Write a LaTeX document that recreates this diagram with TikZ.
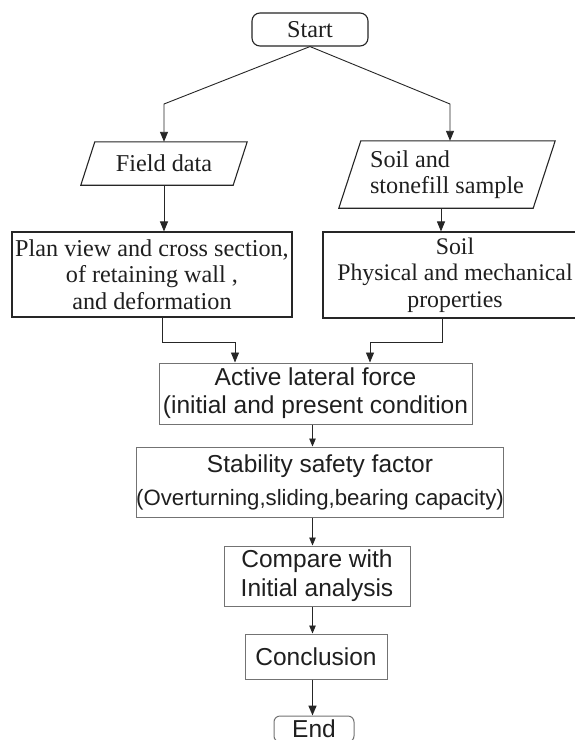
\documentclass[tikz,border=0pt]{standalone}
\usepackage{fontspec}
\setmainfont{Liberation Serif}
\setsansfont{Liberation Sans}
\usetikzlibrary{arrows.meta,calc}
\begin{document}
\begin{tikzpicture}[x=1pt,y=-1pt,
  serifbox/.style={draw=black!85, line width=1.1pt, inner sep=0pt, align=center,
    font=\fontsize{24.2}{26.5}\selectfont, text=black!88},
  seriftext/.style={inner sep=0pt, align=center,
    font=\fontsize{24.2}{26.5}\selectfont, text=black!88},
  sansbox/.style={draw=black!55, line width=1pt, inner sep=0pt, align=center,
    font=\sffamily\fontsize{24.5}{28}\selectfont, text=black!88},
  pline/.style={draw=black!85, line width=1.1pt, line join=miter},
  conn/.style={draw=black!85, line width=0.9pt, -{Triangle[length=10pt,width=8pt]}},
  connsm/.style={draw=black!85, line width=0.9pt, -{Triangle[length=8pt,width=6.5pt]}},
  connbig/.style={draw=black!85, line width=1.5pt, -{Triangle[length=10pt,width=8pt]}}
]
\useasboundingbox (0,0) rectangle (575,740);
\fill[white] (0,0) rectangle (575,740);
\clip (0,0) rectangle (575,740);

% top part
\node[serifbox, rounded corners=8pt, minimum width=116pt, minimum height=33pt] (start) at (310,29.5) {Start};

\node[seriftext, minimum width=166pt, minimum height=43pt] (field) at (164,163.5) {Field data};
\draw[pline] ([xshift=14pt]field.north west) -- (field.north east) -- ([xshift=-14pt]field.south east) -- (field.south west) -- cycle;

\node[seriftext, minimum width=216pt, minimum height=67pt, align=left] (sample) at (447,174.5) {Soil and\\stonefill sample};
\draw[pline] ([xshift=22pt]sample.north west) -- (sample.north east) -- ([xshift=-22pt]sample.south east) -- (sample.south west) -- cycle;

\node[serifbox, minimum width=280pt, minimum height=85pt] (plan) at (152,274.5) {Plan view and cross section,\\of retaining wall ,\hspace*{17pt}\\and deformation};

\node[serifbox, minimum width=268pt, minimum height=86pt, font=\fontsize{23.8}{26.5}\selectfont] (soil) at (457,275) {\hspace*{-4pt}Soil\\\hspace*{-4pt}Physical and mechanical\\\hspace*{-4pt}properties};

% lower part
\node[sansbox, minimum width=313pt, minimum height=61pt] (active) at (315.5,393.5) {Active lateral force\\(initial and present condition};

\node[sansbox, minimum width=360pt, minimum height=70pt] (stab) at (320,482) {Stability safety factor\\[5pt]{\fontsize{22.2}{26}\selectfont(Overturning,sliding,bearing capacity)}};

\node[sansbox, minimum width=186pt, minimum height=60pt] (cmp) at (317,576) {Compare with\\[1pt]Initial analysis};

\node[sansbox, minimum width=142pt, minimum height=45pt] (conc) at (316,656.5) {Conclusion};

\node[sansbox, rounded corners=6pt, minimum width=80pt, minimum height=26pt] (end) at (314,729) {End};

% connectors
\coordinate (bl) at (164,104);
\coordinate (br) at (450,104);
\draw[conn] (start.south) -- (bl) -- (bl |- field.north);
\draw[conn] (start.south) -- (br) -- (br |- sample.north);

\draw[conn] (field.south) -- (field.south |- plan.north);
\coordinate (sx) at (441,0);
\draw[conn] (sample.south -| sx) -- (soil.north -| sx);

\coordinate (pl) at (162,342);
\coordinate (al) at (235,342);
\draw[conn] (plan.south -| pl) -- (pl) -- (al) -- (al |- active.north);
\coordinate (pr) at (442,342);
\coordinate (ar) at (370,342);
\draw[conn] (soil.south -| pr) -- (pr) -- (ar) -- (ar |- active.north);

\coordinate (ax) at (312.5,0);
\draw[connsm] (active.south -| ax) -- (stab.north -| ax);
\draw[connsm] (stab.south -| ax) -- (cmp.north -| ax);
\draw[connsm] (cmp.south -| ax) -- (conc.north -| ax);
\draw[connbig] (conc.south -| ax) -- (end.north -| ax);
\end{tikzpicture}
\end{document}
